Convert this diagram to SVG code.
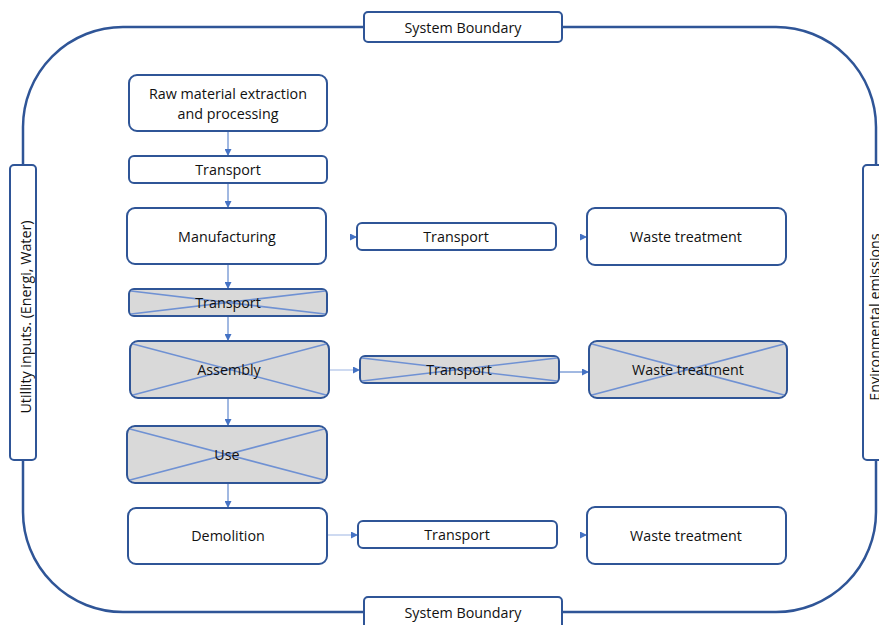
<svg xmlns="http://www.w3.org/2000/svg" width="879" height="625" viewBox="0 0 879 625">
<defs>
<marker id="ah" viewBox="0 0 10 10" refX="10" refY="5" markerWidth="7" markerHeight="7" markerUnits="userSpaceOnUse" orient="auto">
<path d="M0,0 L10,5 L0,10 z" fill="#4472C4"/>
</marker>
<style>
.box{fill:#fff;stroke:#2F5597;stroke-width:2}
.gray{fill:#D9D9D9;stroke:#2F5597;stroke-width:2}
.x{stroke:#6F91D3;stroke-width:1.6}
.t{font-family:"Open Sans","Noto Sans",sans-serif;font-size:14.3px;fill:#111;text-anchor:middle}
.c{stroke:#4472C4;stroke-width:1;fill:none}
.cl{stroke:#9DB5E3;stroke-width:1;fill:none}
</style>
</defs>
<rect width="879" height="625" fill="#fff"/>
<g id="boundary">
<rect x="23" y="27" width="853" height="585" rx="100" ry="100" fill="none" stroke="#2F5597" stroke-width="2.5"/>
</g>
<g id="sb-top"><rect class="box" x="364" y="12" width="198" height="30" rx="4"/><text class="t" x="463" y="33">System Boundary</text></g>
<g id="sb-bottom"><rect class="box" x="364" y="597" width="198" height="40" rx="4"/><text class="t" x="463" y="618">System Boundary</text></g>
<g id="utility"><rect class="box" x="10" y="165" width="26" height="295" rx="4"/><text class="t" transform="translate(31,317) rotate(-90)">Utillity inputs. (Energi, Water)</text></g>
<g id="emissions"><rect class="box" x="863" y="165" width="30" height="295" rx="4"/><text class="t" transform="translate(880,317) rotate(-90)">Environmental emissions</text></g>
<g id="connectors">
<line class="c" x1="228" y1="131" x2="228" y2="156" marker-end="url(#ah)"/>
<line class="c" x1="228" y1="183" x2="228" y2="208" marker-end="url(#ah)"/>
<line class="c" x1="228" y1="264" x2="228" y2="289" marker-end="url(#ah)"/>
<line class="c" x1="228" y1="316" x2="228" y2="341" marker-end="url(#ah)"/>
<line class="c" x1="228" y1="398" x2="228" y2="426" marker-end="url(#ah)"/>
<line class="c" x1="228" y1="483" x2="228" y2="508" marker-end="url(#ah)"/>
<line class="c" x1="352" y1="237" x2="357" y2="237" marker-end="url(#ah)"/>
<line class="c" x1="582" y1="237" x2="587" y2="237" marker-end="url(#ah)"/>
<line class="cl" x1="329" y1="370" x2="360" y2="370" marker-end="url(#ah)"/>
<line class="c" x1="559" y1="372" x2="589" y2="372" marker-end="url(#ah)"/>
<line class="cl" x1="327" y1="535" x2="358" y2="535" marker-end="url(#ah)"/>
<line class="c" x1="582" y1="535" x2="587" y2="535" marker-end="url(#ah)"/>
</g>
<g id="raw"><rect class="box" x="129" y="75" width="198" height="56" rx="8"/><text class="t" x="228" y="99">Raw material extraction</text><text class="t" x="228" y="119">and processing</text></g>
<g id="transport1"><rect class="box" x="129" y="156" width="198" height="27" rx="5"/><text class="t" x="228" y="175">Transport</text></g>
<g id="manufacturing"><rect class="box" x="127" y="208" width="199" height="56" rx="8"/><text class="t" x="227" y="242">Manufacturing</text></g>
<g id="transport2"><rect class="gray" x="129" y="289" width="198" height="27" rx="5"/><line class="x" x1="131" y1="291" x2="325" y2="314"/><line class="x" x1="131" y1="314" x2="325" y2="291"/><text class="t" x="228" y="308">Transport</text></g>
<g id="assembly"><rect class="gray" x="130" y="341" width="199" height="57" rx="8"/><line class="x" x1="133" y1="344" x2="326" y2="395"/><line class="x" x1="133" y1="395" x2="326" y2="344"/><text class="t" x="229" y="375">Assembly</text></g>
<g id="use"><rect class="gray" x="127" y="426" width="200" height="57" rx="8"/><line class="x" x1="130" y1="429" x2="324" y2="480"/><line class="x" x1="130" y1="480" x2="324" y2="429"/><text class="t" x="227" y="460">Use</text></g>
<g id="demolition"><rect class="box" x="128" y="508" width="199" height="56" rx="8"/><text class="t" x="228" y="541">Demolition</text></g>
<g id="transport-m"><rect class="box" x="357" y="223" width="199" height="27" rx="5"/><text class="t" x="456" y="242">Transport</text></g>
<g id="waste-m"><rect class="box" x="587" y="208" width="199" height="57" rx="8"/><text class="t" x="686" y="242">Waste treatment</text></g>
<g id="transport-a"><rect class="gray" x="360" y="356" width="199" height="27" rx="5"/><line class="x" x1="362" y1="358" x2="557" y2="381"/><line class="x" x1="362" y1="381" x2="557" y2="358"/><text class="t" x="459" y="375">Transport</text></g>
<g id="waste-a"><rect class="gray" x="589" y="341" width="198" height="57" rx="8"/><line class="x" x1="592" y1="344" x2="784" y2="395"/><line class="x" x1="592" y1="395" x2="784" y2="344"/><text class="t" x="688" y="375">Waste treatment</text></g>
<g id="transport-d"><rect class="box" x="358" y="521" width="199" height="27" rx="5"/><text class="t" x="457" y="540">Transport</text></g>
<g id="waste-d"><rect class="box" x="587" y="507" width="199" height="57" rx="8"/><text class="t" x="686" y="541">Waste treatment</text></g>
</svg>
